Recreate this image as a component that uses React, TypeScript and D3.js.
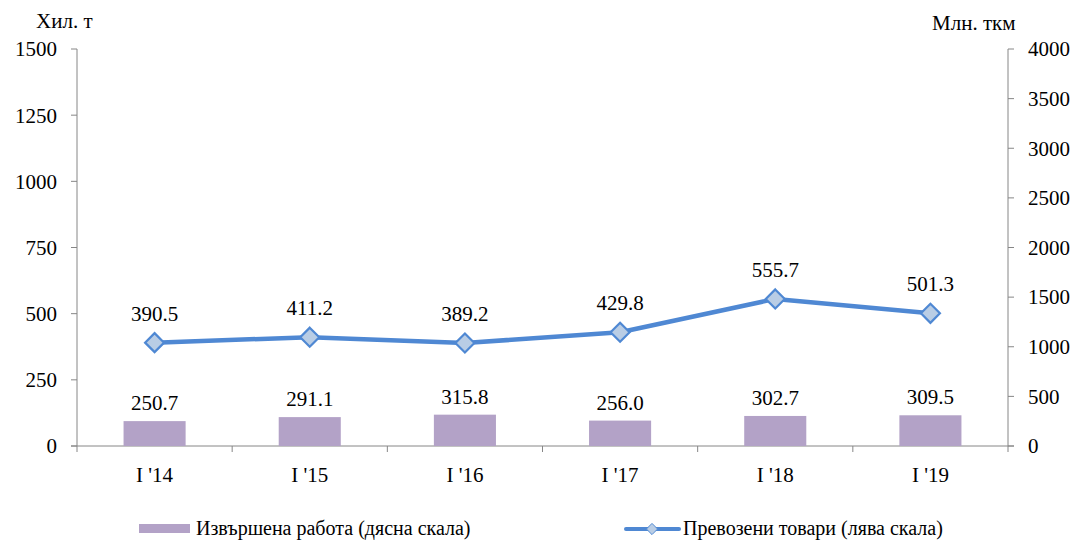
import React, { useEffect, useRef } from 'react';
import * as d3 from 'd3';

// data
const categories = ["I '14", "I '15", "I '16", "I '17", "I '18", "I '19"];
const workDone = [250.7, 291.1, 315.8, 256.0, 302.7, 309.5]; // bars, right scale
const goods = [390.5, 411.2, 389.2, 429.8, 555.7, 501.3]; // line, left scale
const leftTicks = [0, 250, 500, 750, 1000, 1250, 1500];
const rightTicks = [0, 500, 1000, 1500, 2000, 2500, 3000, 3500, 4000];

const W = 1077;
const H = 540;
const font = "'Liberation Serif', 'DejaVu Serif', serif";

export default function App() {
  const ref = useRef<SVGSVGElement>(null);

  useEffect(() => {
    const svg = d3.select(ref.current);
    svg.selectAll('*').remove();

    const x0 = 77, x1 = 1008, yTop = 49, yBot = 446;
    const axisCol = '#868686';

    const x = d3.scaleBand().domain(categories).range([x0, x1]);
    const yL = d3.scaleLinear().domain([0, 1500]).range([yBot, yTop]);
    const yR = d3.scaleLinear().domain([0, 4000]).range([yBot, yTop]);

    // left axis
    svg.append('line').attr('x1', x0).attr('x2', x0).attr('y1', yTop).attr('y2', yBot)
      .attr('stroke', axisCol);
    leftTicks.forEach(t => {
      svg.append('line').attr('x1', x0 - 6).attr('x2', x0).attr('y1', yL(t)).attr('y2', yL(t))
        .attr('stroke', axisCol);
      svg.append('text').attr('x', 57).attr('y', yL(t)).attr('dy', '0.35em')
        .attr('text-anchor', 'end').text(t);
    });

    // right axis
    svg.append('line').attr('x1', x1).attr('x2', x1).attr('y1', yTop).attr('y2', yBot)
      .attr('stroke', axisCol);
    rightTicks.forEach(t => {
      svg.append('line').attr('x1', x1).attr('x2', x1 + 6).attr('y1', yR(t)).attr('y2', yR(t))
        .attr('stroke', axisCol);
      svg.append('text').attr('x', 1028).attr('y', yR(t)).attr('dy', '0.35em')
        .attr('text-anchor', 'start').text(t);
    });

    // x axis
    svg.append('line').attr('x1', x0 - 6).attr('x2', x1 + 6).attr('y1', yBot).attr('y2', yBot)
      .attr('stroke', axisCol);
    categories.forEach((c, i) => {
      const xs = x(c)!;
      if (i > 0) {
        svg.append('line').attr('x1', xs).attr('x2', xs).attr('y1', yBot).attr('y2', yBot + 6)
          .attr('stroke', axisCol);
      }
      svg.append('text').attr('x', xs + x.bandwidth() / 2).attr('y', 482)
        .attr('text-anchor', 'middle').text(c);
    });
    [x0, x1].forEach(xx => {
      svg.append('line').attr('x1', xx).attr('x2', xx).attr('y1', yBot).attr('y2', yBot + 6)
        .attr('stroke', axisCol);
    });

    // bars
    const bw = x.bandwidth() * 0.4;
    categories.forEach((c, i) => {
      const cx = x(c)! + x.bandwidth() / 2;
      svg.append('rect').attr('x', cx - bw / 2).attr('y', yR(workDone[i]))
        .attr('width', bw).attr('height', yBot - yR(workDone[i])).attr('fill', '#b3a2c7');
      svg.append('text').attr('x', cx).attr('y', yR(workDone[i]) - 11)
        .attr('text-anchor', 'middle').text(workDone[i].toFixed(1));
    });

    // line
    const lineCol = '#4f88d3';
    const pts: [number, number][] = categories.map((c, i) => [x(c)! + x.bandwidth() / 2, yL(goods[i])]);
    svg.append('path').attr('d', d3.line()(pts)).attr('fill', 'none')
      .attr('stroke', lineCol).attr('stroke-width', 4.5).attr('stroke-linejoin', 'round');
    const diamond = d3.symbol().type(d3.symbolDiamond2).size(230);
    pts.forEach((p, i) => {
      svg.append('path').attr('d', diamond()).attr('transform', `translate(${p[0]},${p[1]})`)
        .attr('fill', '#b9cde5').attr('stroke', lineCol).attr('stroke-width', 2.2);
      svg.append('text').attr('x', p[0]).attr('y', p[1] - 22)
        .attr('text-anchor', 'middle').text(goods[i].toFixed(1));
    });

    // axis titles
    svg.append('text').attr('x', 36).attr('y', 28).text('Хил. т');
    svg.append('text').attr('x', 932).attr('y', 30).text('Млн. ткм');

    // legend
    svg.append('rect').attr('x', 139).attr('y', 524).attr('width', 51).attr('height', 9)
      .attr('fill', '#b3a2c7');
    svg.append('text').attr('x', 196).attr('y', 535).attr('font-size', 20)
      .text('Извършена работа (дясна скала)');
    svg.append('line').attr('x1', 626).attr('x2', 679).attr('y1', 529).attr('y2', 529)
      .attr('stroke', lineCol).attr('stroke-width', 4).attr('stroke-linecap', 'round');
    svg.append('path').attr('d', d3.symbol().type(d3.symbolDiamond2).size(80)())
      .attr('transform', 'translate(652,529)').attr('fill', '#b9cde5')
      .attr('stroke', lineCol).attr('stroke-width', 1);
    svg.append('text').attr('x', 683).attr('y', 535).attr('font-size', 20)
      .text('Превозени товари (лява скала)');
  }, []);

  return (
    <div style={{ position: 'absolute', left: 0, top: 0 }}>
      <svg ref={ref} width={W} height={H} style={{ fontFamily: font, fontSize: 21, fill: '#000' }} />
    </div>
  );
}
